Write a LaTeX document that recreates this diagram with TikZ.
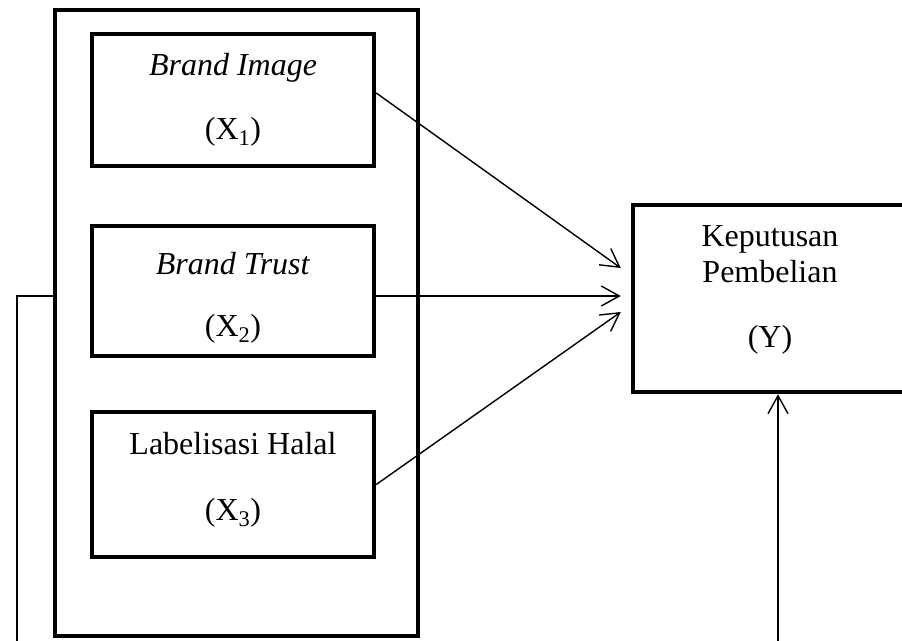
\documentclass[tikz,border=0pt]{standalone}
\usepackage{fontspec}
\setmainfont{Liberation Serif}
\usetikzlibrary{arrows.meta}
\begin{document}
\begin{tikzpicture}[x=1pt,y=-1pt,
  box/.style={draw, line width=4.5pt, inner sep=0pt},
  lbl/.style={font=\fontsize{32}{37}\selectfont, inner sep=0pt, anchor=base},
  conn/.style={line width=1.4pt, -{Straight Barb[length=18pt,width=20pt,line width=1.4pt]}},
  plain/.style={line width=1.4pt}]
\useasboundingbox (0,0) rectangle (902,640);
\clip (0,0) rectangle (902,640);
% outer group box
\node[box, minimum width=363pt, minimum height=626pt] (outer) at (236.5,323) {};
% variable boxes
\node[box, minimum width=282pt, minimum height=132pt] (x1) at (233,100) {};
\node[box, minimum width=282pt, minimum height=130pt] (x2) at (233,291) {};
\node[box, minimum width=282pt, minimum height=145pt] (x3) at (233,484.5) {};
\node[box, minimum width=287pt, minimum height=187pt] (yb) at (776.5,298.5) {};
% texts
\node[lbl] (t1a) at (233,75) {\textit{Brand Image}};
\node[lbl] (t1b) at (233,139) {(X\textsubscript{1})};
\node[lbl] (t2a) at (233,274) {\textit{Brand Trust}};
\node[lbl] (t2b) at (233,336) {(X\textsubscript{2})};
\node[lbl] (t3a) at (233,454) {Labelisasi Halal};
\node[lbl] (t3b) at (233,520) {(X\textsubscript{3})};
\node[lbl] (tya) at (770,246) {Keputusan};
\node[lbl] (tyb) at (770,282) {Pembelian};
\node[lbl] (tyc) at (770,347) {(Y)};
% connectors
\draw[conn] ([yshift=7pt]x1.east) -- ([xshift=-10pt,yshift=30.5pt]yb.west);
\draw[conn] ([yshift=-5pt]x2.east) -- ([xshift=-10pt,yshift=2.5pt]yb.west);
\draw[conn] (x3.east) -- ([xshift=-10pt,yshift=-13.5pt]yb.west);
\coordinate (ybot) at (778,645);
\draw[conn] (ybot) -- (ybot |- yb.south);
\coordinate (lbot) at (17,645);
\draw[plain] ([yshift=27pt]outer.west) -| (lbot);
\end{tikzpicture}
\end{document}
